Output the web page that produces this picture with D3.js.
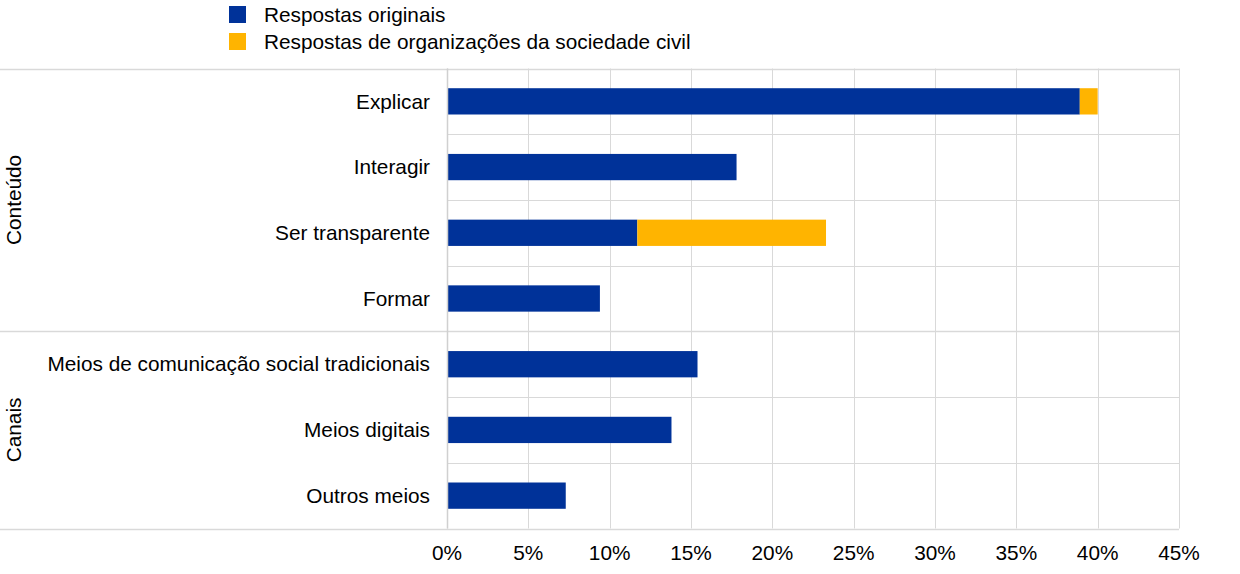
<!DOCTYPE html>
<html><head><meta charset="utf-8">
<script src="https://cdn.jsdelivr.net/npm/d3@7/dist/d3.min.js"></script>
<style>body{margin:0;background:#fff}svg{display:block;font-family:"Liberation Sans",Arial,sans-serif}</style>
</head><body><svg id="c" width="1240" height="574"></svg>
<script>
const categories = ["Explicar","Interagir","Ser transparente","Formar","Meios de comunicação social tradicionais","Meios digitais","Outros meios"];
const groups = [{name:"Conteúdo", from:0, to:3},{name:"Canais", from:4, to:6}];
const originais = [38.9, 17.8, 11.7, 9.4, 15.4, 13.8, 7.3];
const sociedadeCivil = [1.1, 0, 11.6, 0, 0, 0, 0];
const seriesNames = ["Respostas originais","Respostas de organizações da sociedade civil"];
const colors = ["#003299","#FFB400"];
const xTicks = [0,5,10,15,20,25,30,35,40,45];

const FS = 20.8;
const svg = d3.select("#c");
const L = 447, R = 1179, T = 68.5, B = 528.5;
const x = d3.scaleLinear().domain([0,45]).range([L,R]);
const y = d3.scaleBand().domain(categories).range([T,B]).paddingInner(0.6).paddingOuter(0.3);
const step = y.step();
const grid = "#d9d9d9";

svg.append("g").selectAll("line").data(xTicks).join("line")
  .attr("x1",d=>Math.round(x(d))+0.5).attr("x2",d=>Math.round(x(d))+0.5)
  .attr("y1",T).attr("y2",B).attr("stroke",grid).attr("stroke-width",1);

const bounds = d3.range(categories.length+1).map(i=>T+i*step);
svg.append("g").selectAll("line").data(bounds).join("line")
  .attr("x1",(d,i)=> (i===0||i===4||i===7)?0:L)
  .attr("x2",R)
  .attr("y1",d=>Math.round(d)+0.5).attr("y2",d=>Math.round(d)+0.5)
  .attr("stroke",grid).attr("stroke-width",(d,i)=>(i===0||i===4||i===7)?1.5:1);

const stack = categories.map((c,i)=>({c, a:originais[i], b:sociedadeCivil[i]}));
const g = svg.append("g");
g.selectAll("rect.a").data(stack).join("rect").attr("class","a")
  .attr("x",x(0)).attr("y",d=>y(d.c)).attr("height",y.bandwidth())
  .attr("width",d=>x(d.a)-x(0)).attr("fill",colors[0]);
g.selectAll("rect.b").data(stack.filter(d=>d.b>0)).join("rect").attr("class","b")
  .attr("x",d=>x(d.a)).attr("y",d=>y(d.c)).attr("height",y.bandwidth())
  .attr("width",d=>x(d.a+d.b)-x(d.a)).attr("fill",colors[1]);

svg.append("line").attr("x1",L+0.5).attr("x2",L+0.5).attr("y1",T).attr("y2",B)
  .attr("stroke","#d0d0d0").attr("stroke-width",1.5);

svg.append("g").selectAll("text").data(categories).join("text")
  .attr("x",430).attr("y",d=>y(d)+y.bandwidth()/2).attr("dy","0.35em")
  .attr("text-anchor","end").attr("font-size",FS).attr("fill","#000").text(d=>d);

svg.append("g").selectAll("text").data(groups).join("text")
  .attr("transform",d=>`translate(21,${(T+d.from*step + T+(d.to+1)*step)/2}) rotate(-90)`)
  .attr("text-anchor","middle").attr("font-size",FS).attr("fill","#000").text(d=>d.name);

svg.append("g").selectAll("text").data(xTicks).join("text")
  .attr("x",d=>x(d)).attr("y",560).attr("text-anchor","middle")
  .attr("font-size",FS).attr("fill","#000").text(d=>d+"%");

const lg = svg.append("g").selectAll("g").data(seriesNames).join("g")
  .attr("transform",(d,i)=>`translate(229,${6+i*27})`);
lg.append("rect").attr("width",17).attr("height",17).attr("fill",(d,i)=>colors[i]);
lg.append("text").attr("x",35).attr("y",9).attr("dy","0.35em").attr("font-size",FS).attr("fill","#000").text(d=>d);
</script></body></html>
